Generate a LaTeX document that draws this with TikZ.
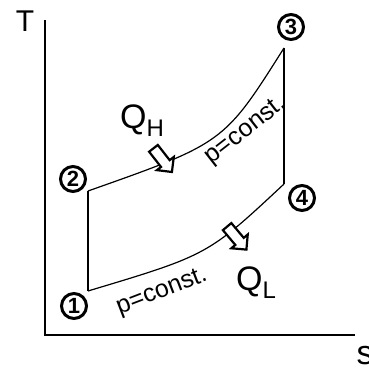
\documentclass[tikz,border=0pt]{standalone}
\usepackage{fontspec}
\setmainfont{Liberation Sans}
\usetikzlibrary{shapes.arrows}

\begin{document}
\begin{tikzpicture}[x=0.5pt,y=-0.5pt,
  axis/.style={line width=1pt},
  cycle/.style={line width=0.6pt},
  stnum/.style={draw,circle,line width=1.5pt,minimum size=12.5pt,inner sep=0pt,
    font=\fontsize{11}{11}\selectfont\bfseries},
  heat/.style={single arrow,draw,fill=white,line width=1.1pt,minimum height=15pt,
    inner sep=2.2pt,single arrow head extend=2.6pt},
  plab/.style={inner sep=0pt,font=\fontsize{12.5}{12.5}\selectfont},
  qlab/.style={inner sep=0pt,font=\fontsize{17}{17}\selectfont}
]
\useasboundingbox (0,0) rectangle (369,368);
\coordinate (origin) at (45,335);
\coordinate (ytop) at (45,20);
\coordinate (xend) at (355,335);
\draw[axis] (ytop) -- (origin) -- (xend);
\node[font=\fontsize{15}{15}\selectfont,inner sep=0pt] (tlab) at (25,21) {T};
\node[font=\fontsize{17}{17}\selectfont,inner sep=0pt] (slab) at (365,356) {s};

\coordinate (p1) at (88,291);
\coordinate (p2) at (88,191);
\coordinate (p3) at (284,48);
\coordinate (p4) at (284,184);
\draw[cycle] (p1) -- (p2);
\draw[cycle] (p2) .. controls (224,143) .. (p3);
\draw[cycle] (p3) -- (p4);
\draw[cycle] (p4) .. controls (208,255) .. (p1);

\node[stnum] (n1) at (74,306) {1};
\node[stnum] (n2) at (73,179) {2};
\node[stnum] (n3) at (291,27) {3};
\node[stnum] (n4) at (302,198) {4};

\node[heat,rotate=-52] (qin) at (161,158) {};
\node[heat,rotate=-50] (qout) at (235,236) {};
\node[qlab] (qh) at (142,121) {Q\raisebox{-4pt}{\fontsize{12}{12}\selectfont H}};
\node[qlab] (ql) at (256,283) {Q\raisebox{-4pt}{\fontsize{12}{12}\selectfont L}};

\node[plab,rotate=38] (pup) at (246,131) {p=const.};
\node[plab,rotate=21] (plow) at (162,292) {p=const.};
\end{tikzpicture}
\end{document}
